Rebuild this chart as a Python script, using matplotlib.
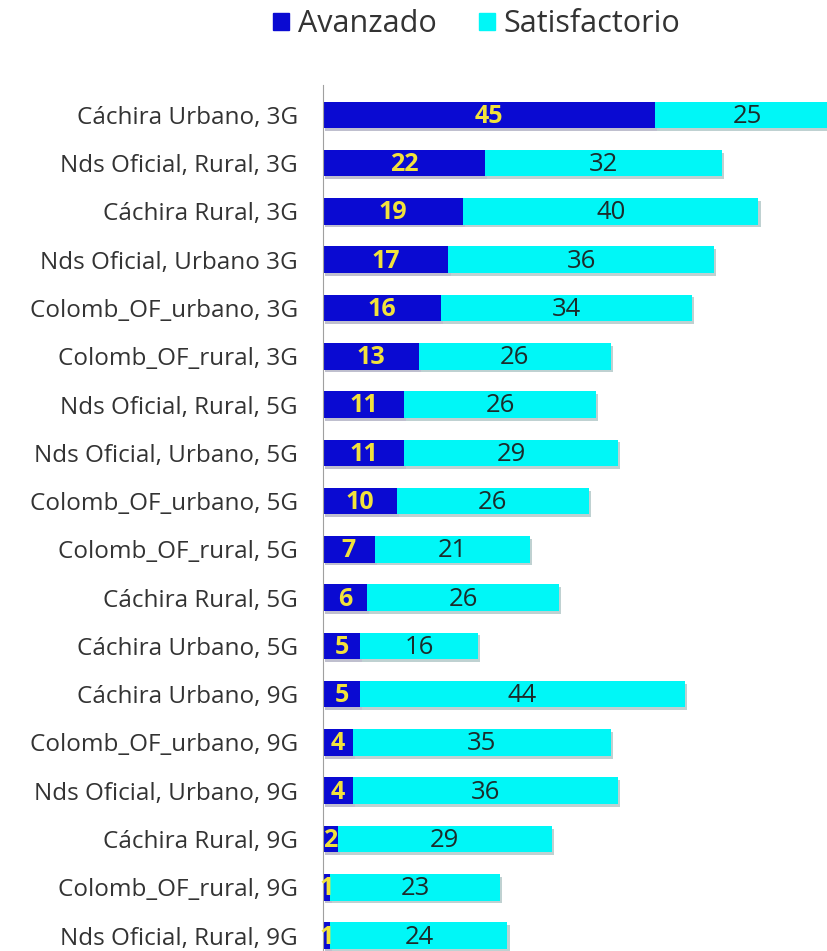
import matplotlib
matplotlib.use('Agg')
import matplotlib.pyplot as plt
import matplotlib.patheffects as pe
from matplotlib.patches import Patch

plt.rcParams['font.family'] = ['Open Sans', 'DejaVu Sans']

categorias = ['Cáchira Urbano, 3G', 'Nds Oficial, Rural, 3G', 'Cáchira Rural, 3G',
              'Nds Oficial, Urbano 3G', 'Colomb_OF_urbano, 3G', 'Colomb_OF_rural, 3G',
              'Nds Oficial, Rural, 5G', 'Nds Oficial, Urbano, 5G', 'Colomb_OF_urbano, 5G',
              'Colomb_OF_rural, 5G', 'Cáchira Rural, 5G', 'Cáchira Urbano, 5G',
              'Cáchira Urbano, 9G', 'Colomb_OF_urbano, 9G', 'Nds Oficial, Urbano, 9G',
              'Cáchira Rural, 9G', 'Colomb_OF_rural, 9G', 'Nds Oficial, Rural, 9G']
avanzado = [45, 22, 19, 17, 16, 13, 11, 11, 10, 7, 6, 5, 5, 4, 4, 2, 1, 1]
satisfactorio = [25, 32, 40, 36, 34, 26, 26, 29, 26, 21, 26, 16, 44, 35, 36, 29, 23, 24]

c_av = '#0a0ad2'
c_sat = '#00f7f7'

fig = plt.figure(figsize=(8.28, 9.51), dpi=100)
ax = fig.add_axes([323 / 828, 0, 1 - 323 / 828, (951 - 85) / 951])

y = list(range(len(categorias)))
sombra = [pe.SimplePatchShadow(offset=(1.5, -2), alpha=0.25), pe.Normal()]
ax.barh(y, avanzado, height=0.55, color=c_av, path_effects=sombra)
ax.barh(y, satisfactorio, left=avanzado, height=0.55, color=c_sat, path_effects=sombra)

for i in y:
    ax.text(avanzado[i] / 2, i + 0.03, str(avanzado[i]), ha='center', va='center',
            color='#f2e23c', fontsize=18, fontweight='bold')
    ax.text(avanzado[i] + satisfactorio[i] / 2, i + 0.03, str(satisfactorio[i]),
            ha='center', va='center', color='#1c2b2b', fontsize=18.5)

ax.set_xlim(0, 505 / 7.38)
ax.set_ylim((951 - 111) / 48.5, -30 / 48.5)
ax.set_yticks(y)
ax.set_yticklabels(categorias, fontsize=17.5, color='#333333')
ax.tick_params(axis='y', length=0, pad=18)
ax.set_xticks([])
for s in ['top', 'right', 'bottom']:
    ax.spines[s].set_visible(False)
ax.spines['left'].set_color('#a0a0a0')

handles = [Patch(color=c_av, label='Avanzado'), Patch(color=c_sat, label='Satisfactorio')]
fig.legend(handles=handles, loc='upper center', bbox_to_anchor=(0.576, 1.019), ncol=2,
           frameon=False, fontsize=22, handlelength=0.5, handleheight=0.5,
           handletextpad=0.3, columnspacing=1.4, labelcolor='#333333')

fig.savefig('out.png', dpi=100)
